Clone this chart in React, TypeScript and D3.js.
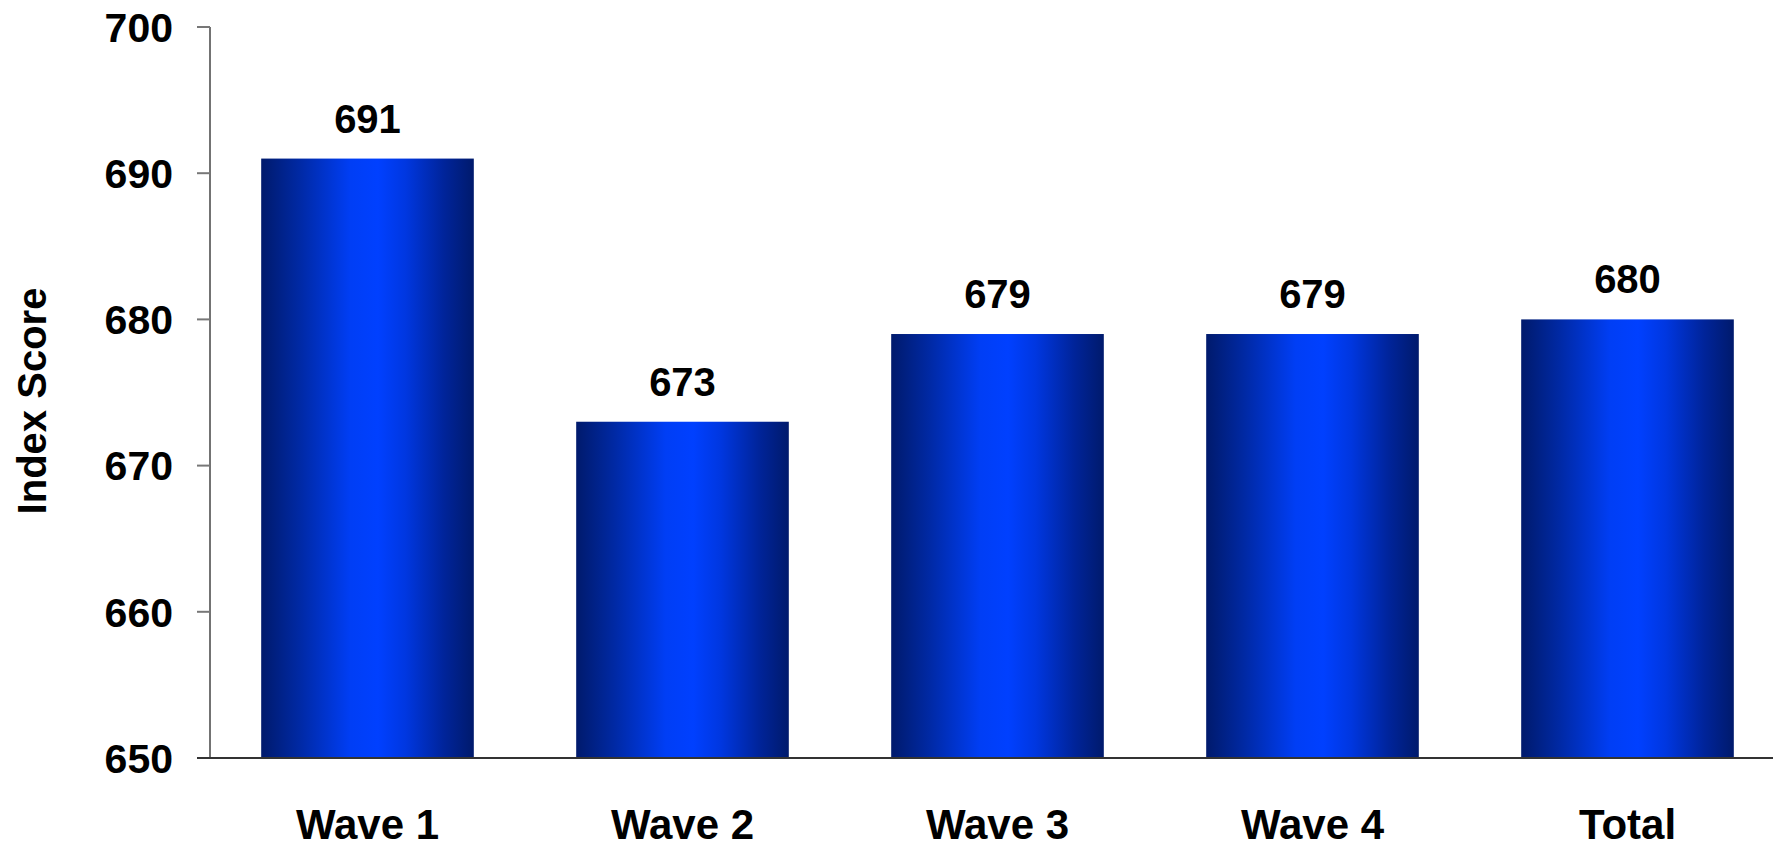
import React from "react";
import * as d3 from "d3";

const categories = ["Wave 1", "Wave 2", "Wave 3", "Wave 4", "Total"];
const values = [691, 673, 679, 679, 680];
const yTicks = [650, 660, 670, 680, 690, 700];
const yTitle = "Index Score";

const W = 1773;
const H = 843;
const FONT = "'Liberation Sans', Arial, Helvetica, sans-serif";

export default function App() {
  const x = d3
    .scaleBand<string>()
    .domain(categories)
    .range([210, 1785])
    .paddingInner(0.325)
    .paddingOuter(0.1625);
  const y = d3.scaleLinear().domain([650, 700]).range([758, 27]);

  return (
    <svg
      width={W}
      height={H}
      style={{ position: "absolute", left: 0, top: 0, background: "#fff" }}
      fontFamily={FONT}
    >
      <defs>
        <linearGradient id="barGrad" x1="0" x2="1" y1="0" y2="0">
          <stop offset="0" stopColor="#001a6c" />
          <stop offset="0.18" stopColor="#0029a4" />
          <stop offset="0.42" stopColor="#003ef5" />
          <stop offset="0.55" stopColor="#0040ff" />
          <stop offset="0.68" stopColor="#0037e0" />
          <stop offset="0.86" stopColor="#00249a" />
          <stop offset="1" stopColor="#001a6c" />
        </linearGradient>
      </defs>

      {/* bars */}
      {categories.map((c, i) => (
        <rect
          key={c}
          x={x(c)}
          y={y(values[i])}
          width={x.bandwidth()}
          height={y(650) - y(values[i])}
          fill="url(#barGrad)"
        />
      ))}

      {/* value labels */}
      {categories.map((c, i) => (
        <text
          key={c + "-v"}
          x={(x(c) as number) + x.bandwidth() / 2}
          y={y(values[i]) - 26}
          textAnchor="middle"
          fontSize={40}
          fontWeight="bold"
          fill="#000"
        >
          {values[i]}
        </text>
      ))}

      {/* y axis */}
      <line x1={210} x2={210} y1={y(700)} y2={y(650)} stroke="#444" strokeWidth={1.5} />
      {yTicks.map((t) => (
        <g key={t}>
          <line x1={197} x2={210} y1={y(t)} y2={y(t)} stroke="#777" strokeWidth={2} />
          <text
            x={173}
            y={y(t)}
            dy="0.36em"
            textAnchor="end"
            fontSize={41}
            fontWeight="bold"
            fill="#000"
          >
            {t}
          </text>
        </g>
      ))}

      {/* x axis */}
      <line x1={197} x2={W} y1={y(650)} y2={y(650)} stroke="#333" strokeWidth={2} />
      {categories.map((c) => (
        <text
          key={c + "-x"}
          x={(x(c) as number) + x.bandwidth() / 2}
          y={839}
          textAnchor="middle"
          fontSize={42}
          fontWeight="bold"
          fill="#000"
        >
          {c}
        </text>
      ))}

      {/* y title */}
      <text
        transform={`translate(46, ${401}) rotate(-90)`}
        textAnchor="middle"
        fontSize={40}
        fontWeight="bold"
        fill="#000"
      >
        {yTitle}
      </text>
    </svg>
  );
}
